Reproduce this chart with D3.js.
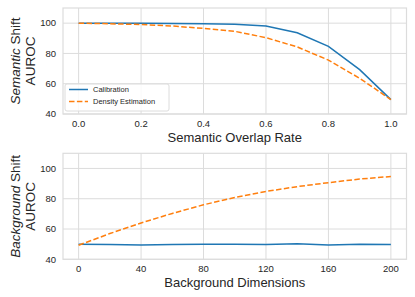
<!DOCTYPE html>
<html>
<head>
<meta charset="utf-8">
<script src="https://cdn.jsdelivr.net/npm/d3@7"></script>
<style>
  body { margin: 0; background: #fff; }
  svg text { font-family: "Liberation Sans", Arial, sans-serif; fill: #262626; }
</style>
</head>
<body>
<svg id="chart" width="415" height="297"></svg>
<script>
// top panel: semantic shift
const overlapRates = [0, 0.1, 0.2, 0.3, 0.4, 0.5, 0.6, 0.7, 0.8, 0.9, 1.0]
const semCalibration = [100, 100, 99.9, 99.8, 99.6, 99.2, 98.1, 93.6, 84.7, 69.3, 49.5]
const semDensity = [100, 99.6, 99.1, 98.1, 96.5, 94.6, 90.4, 84.3, 75.6, 63.6, 49.5]
const overlapTicks = [0, 0.2, 0.4, 0.6, 0.8, 1.0]

// bottom panel: background shift
const bgDims = [0, 20, 40, 60, 80, 100, 120, 140, 160, 180, 200]
const bgCalibration = [49.9, 49.8, 49.5, 49.8, 50.0, 49.9, 49.8, 50.2, 49.5, 49.9, 49.7]
const bgDensity = [49.3, 57.0, 64.0, 70.3, 76.0, 80.8, 84.8, 88.0, 90.6, 93.0, 94.7]
const dimTicks = [0, 40, 80, 120, 160, 200]

const aurocTicks = [40, 60, 80, 100]
const seriesNames = ['Calibration', 'Density Estimation']

const blue = '#1f77b4', orange = '#ff7f0e', gridCol = '#dcdcdc'

const svg = d3.select('#chart')
const left = 63, right = 406.5

function panel(top, bottom, xDomain, xTicks, xFmt, xs, calib, dens, xLabel, italicWord, legend) {
	let x = d3.scaleLinear().domain(xDomain).range([left, right])
	let y = d3.scaleLinear().domain([40, 110]).range([bottom, top])
	let g = svg.append('g')

	// grid
	g.selectAll('line.vg').data(xTicks).enter().append('line')
		.attr('x1', d => x(d)).attr('x2', d => x(d))
		.attr('y1', top).attr('y2', bottom)
		.attr('stroke', gridCol).attr('stroke-width', 1)
	g.selectAll('line.hg').data(aurocTicks).enter().append('line')
		.attr('x1', left).attr('x2', right)
		.attr('y1', d => y(d)).attr('y2', d => y(d))
		.attr('stroke', gridCol).attr('stroke-width', 1)

	// frame
	g.append('rect').attr('x', left).attr('y', top)
		.attr('width', right - left).attr('height', bottom - top)
		.attr('fill', 'none').attr('stroke', gridCol).attr('stroke-width', 1.2)

	// tick labels
	g.selectAll('text.xt').data(xTicks).enter().append('text')
		.attr('x', d => x(d)).attr('y', bottom + 13)
		.attr('text-anchor', 'middle').attr('font-size', 9.5)
		.text(xFmt)
	g.selectAll('text.yt').data(aurocTicks).enter().append('text')
		.attr('x', left - 7).attr('y', d => y(d)).attr('dy', '0.35em')
		.attr('text-anchor', 'end').attr('font-size', 9.5)
		.text(d => d)

	// lines
	let line = d3.line().x((d, i) => x(xs[i])).y(d => y(d))
	g.append('path').attr('d', line(calib)).attr('fill', 'none')
		.attr('stroke', blue).attr('stroke-width', 1.5)
	g.append('path').attr('d', line(dens)).attr('fill', 'none')
		.attr('stroke', orange).attr('stroke-width', 1.5)
		.attr('stroke-dasharray', '5.5,2.4')

	// axis labels
	g.append('text').attr('x', (left + right) / 2).attr('y', bottom + 28)
		.attr('text-anchor', 'middle').attr('font-size', 13).text(xLabel)
	let cy = (top + bottom) / 2
	let t1 = g.append('text').attr('transform', `translate(20,${cy}) rotate(-90)`)
		.attr('text-anchor', 'middle').attr('font-size', 13.5)
	t1.append('tspan').attr('font-style', 'italic').text(italicWord)
	t1.append('tspan').text(' Shift')
	g.append('text').attr('transform', `translate(35,${cy}) rotate(-90)`)
		.attr('text-anchor', 'middle').attr('font-size', 13.5).text('AUROC')

	if (legend) {
		let lg = g.append('g')
		lg.append('rect').attr('x', 65).attr('y', 84).attr('width', 104).attr('height', 27)
			.attr('rx', 2).attr('fill', 'white').attr('fill-opacity', 0.85)
			.attr('stroke', gridCol).attr('stroke-width', 1)
		seriesNames.forEach((name, i) => {
			let ly = 89.5 + i * 12
			lg.append('line').attr('x1', 69).attr('x2', 88).attr('y1', ly).attr('y2', ly)
				.attr('stroke', i ? orange : blue).attr('stroke-width', 1.5)
				.attr('stroke-dasharray', i ? '5.5,2.4' : null)
			lg.append('text').attr('x', 93).attr('y', ly).attr('dy', '0.35em')
				.attr('font-size', 7.5).text(name)
		})
	}
}

panel(8, 114, [-0.05, 1.05], overlapTicks, d => d.toFixed(1), overlapRates,
	semCalibration, semDensity, 'Semantic Overlap Rate', 'Semantic', true)
panel(153.3, 259.3, [-10, 210], dimTicks, d => d, bgDims,
	bgCalibration, bgDensity, 'Background Dimensions', 'Background', false)
</script>
</body>
</html>
